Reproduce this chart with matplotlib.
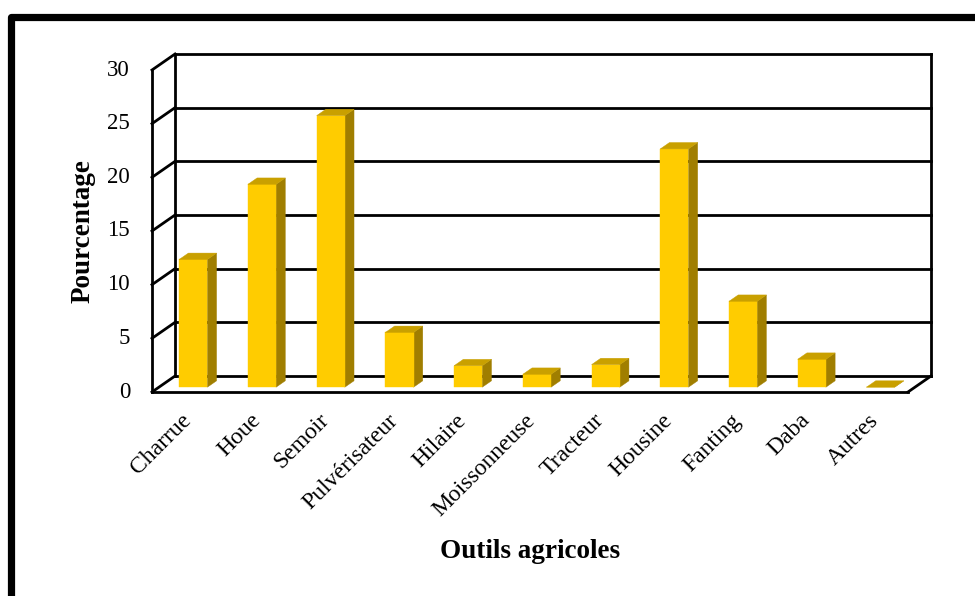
import numpy as np
import matplotlib
matplotlib.use("Agg")
import matplotlib.pyplot as plt
from matplotlib.patches import Polygon, Rectangle

# data
outils = ["Charrue", "Houe", "Semoir", "Pulvérisateur", "Hilaire", "Moissonneuse",
          "Tracteur", "Housine", "Fanting", "Daba", "Autres"]
pourcentage = [11.9, 18.9, 25.3, 5.1, 2.0, 1.2, 2.1, 22.2, 8.0, 2.6, 0.0]
yticks = [0, 5, 10, 15, 20, 25, 30]

# pseudo 3d settings (oblique offset of the full depth, in data units)
ox, oy = 0.335, 1.49
bar_w = 0.41
d0, d1 = 0.3, 0.7          # bar depth range (fraction of floor depth)
c_front, c_side, c_top = "#FFCC00", "#A07E00", "#C9A000"
lw_grid = 2.0

plt.rcParams["font.family"] = ["Liberation Serif", "DejaVu Serif"]

fig = plt.figure(figsize=(9.75, 5.96), dpi=100)
ax = fig.add_axes([152 / 975, (596 - 392) / 596, 756 / 975, 322 / 596])
n = len(outils)
ax.set_xlim(0, n)
ax.set_ylim(0, yticks[-1])
ax.axis("off")

def line(xs, ys, z=1, lw=lw_grid):
    ax.plot(xs, ys, color="black", lw=lw, clip_on=False, zorder=z,
            solid_capstyle="projecting")

# back wall gridlines and edges
for t in yticks:
    line([ox, n + ox], [t + oy, t + oy])
    line([0, ox], [t, t + oy])          # left wall diagonals
line([ox, ox], [oy, yticks[-1] + oy])
line([n + ox, n + ox], [oy, yticks[-1] + oy])
# front axis and floor
line([0, 0], [0, yticks[-1]])
line([0, n], [0, 0])
line([n, n + ox], [0, oy])

# bars
for i, v in enumerate(pourcentage):
    x0 = i + 0.5 - bar_w / 2 + d0 * ox
    y0 = d0 * oy
    dx, dy = (d1 - d0) * ox, (d1 - d0) * oy
    front = [(x0, y0), (x0 + bar_w, y0), (x0 + bar_w, y0 + v), (x0, y0 + v)]
    side = [(x0 + bar_w, y0), (x0 + bar_w + dx, y0 + dy),
            (x0 + bar_w + dx, y0 + dy + v), (x0 + bar_w, y0 + v)]
    top = [(x0, y0 + v), (x0 + bar_w, y0 + v),
           (x0 + bar_w + dx, y0 + v + dy), (x0 + dx, y0 + v + dy)]
    for pts, c in [(side, c_side), (front, c_front), (top, c_top)]:
        ax.add_patch(Polygon(pts, closed=True, facecolor=c, edgecolor=c,
                             lw=0.3, clip_on=False, zorder=3))

# tick labels
for t in yticks:
    ax.text(-0.32, t, str(t), ha="right", va="center", fontsize=16.5)
for i, name in enumerate(outils):
    ax.text(i + 0.53, -2.35, name, ha="right", va="center", rotation=45,
            rotation_mode="anchor", fontsize=17)

ax.text(-1.0, yticks[-1] / 2, "Pourcentage", rotation=90, ha="center",
        va="center", fontsize=19.5, fontweight="bold")
ax.text(5.5, -14.9, "Outils agricoles", ha="center", va="center",
        fontsize=19.5, fontweight="bold")

# outer frame
fig.patches.append(Rectangle((10.5 / 975, -0.2), 1.5, (596 - 16.8) / 596 + 0.2,
                             transform=fig.transFigure, fill=False,
                             edgecolor="black", lw=5.2, joinstyle="round"))

fig.savefig("out.png", dpi=100)
